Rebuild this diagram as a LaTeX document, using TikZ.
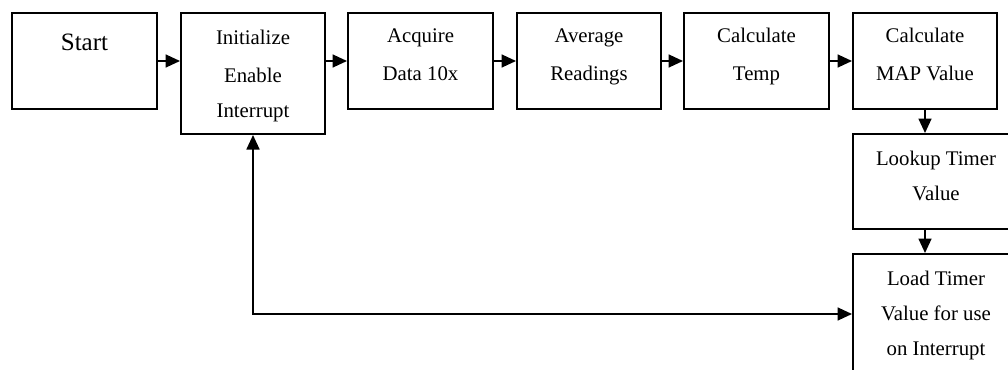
\documentclass[tikz,border=0pt]{standalone}
\usepackage{fontspec}
\setmainfont{Liberation Serif}
\usetikzlibrary{arrows.meta}
\begin{document}
\begin{tikzpicture}[x=1pt,y=1pt,
  box/.style={draw=black, line width=2pt, rectangle, inner sep=0pt},
  txt/.style={anchor=base, inner sep=0pt, font=\fontsize{20.8}{24}\selectfont},
  bigtxt/.style={anchor=base, inner sep=0pt, font=\fontsize{25}{30}\selectfont},
  arr/.style={line width=1.7pt, -{Triangle[length=14.5pt,width=13pt]}},
  arrboth/.style={line width=1.7pt, {Triangle[length=14.5pt,width=13pt]}-{Triangle[length=14.5pt,width=13pt]}}]
\useasboundingbox (0,0) rectangle (1008,-369);
\clip (0,0) rectangle (1008,-369);
% boxes
\node[box, minimum width=145pt, minimum height=96pt] (start) at (84.5,-61) {};
\node[box, minimum width=144pt, minimum height=121pt] (init) at (253,-73.5) {};
\node[box, minimum width=145pt, minimum height=96pt] (acq) at (420.5,-61) {};
\node[box, minimum width=144pt, minimum height=96pt] (avg) at (589,-61) {};
\node[box, minimum width=145pt, minimum height=96pt] (temp) at (756.5,-61) {};
\node[box, minimum width=144pt, minimum height=96pt] (map) at (925,-61) {};
\node[box, minimum width=167pt, minimum height=95pt] (lookup) at (936,-181.5) {};
\node[box, minimum width=167pt, minimum height=140pt] (load) at (936.5,-324) {};
% texts
\node[bigtxt] (tstart) at (84.5,-50) {Start};
\node[txt] (ti1) at (253,-45) {Initialize};
\node[txt] (ti2) at (253,-82) {Enable};
\node[txt] (ti3) at (253,-117) {Interrupt};
\node[txt] (ta1) at (420.5,-43) {Acquire};
\node[txt] (ta2) at (420.5,-80) {Data 10x};
\node[txt] (tv1) at (589,-43) {Average};
\node[txt] (tv2) at (589,-80) {Readings};
\node[txt] (tt1) at (756.5,-43) {Calculate};
\node[txt] (tt2) at (756.5,-80) {Temp};
\node[txt] (tm1) at (925,-43) {Calculate};
\node[txt] (tm2) at (925,-80) {MAP Value};
\node[txt] (tl1) at (936,-165) {Lookup Timer};
\node[txt] (tl2) at (936,-200) {Value};
\node[txt] (td1) at (936,-285) {Load Timer};
\node[txt] (td2) at (936,-320) {Value for use};
\node[txt] (td3) at (936,-355) {on Interrupt};
% connectors
\draw[arr] (start.east) -- (start.east -| init.west);
\draw[arr] (init.east |- acq.west) -- (acq.west);
\draw[arr] (acq.east) -- (avg.west);
\draw[arr] (avg.east) -- (temp.west);
\draw[arr] (temp.east) -- (map.west);
\draw[arr] (map.south) -- (map.south |- lookup.north);
\draw[arr] (map.south |- lookup.south) -- (map.south |- load.north);
\coordinate (fb) at ([yshift=10pt]load.west);
\draw[arrboth] (init.south) |- (fb);
\end{tikzpicture}
\end{document}
